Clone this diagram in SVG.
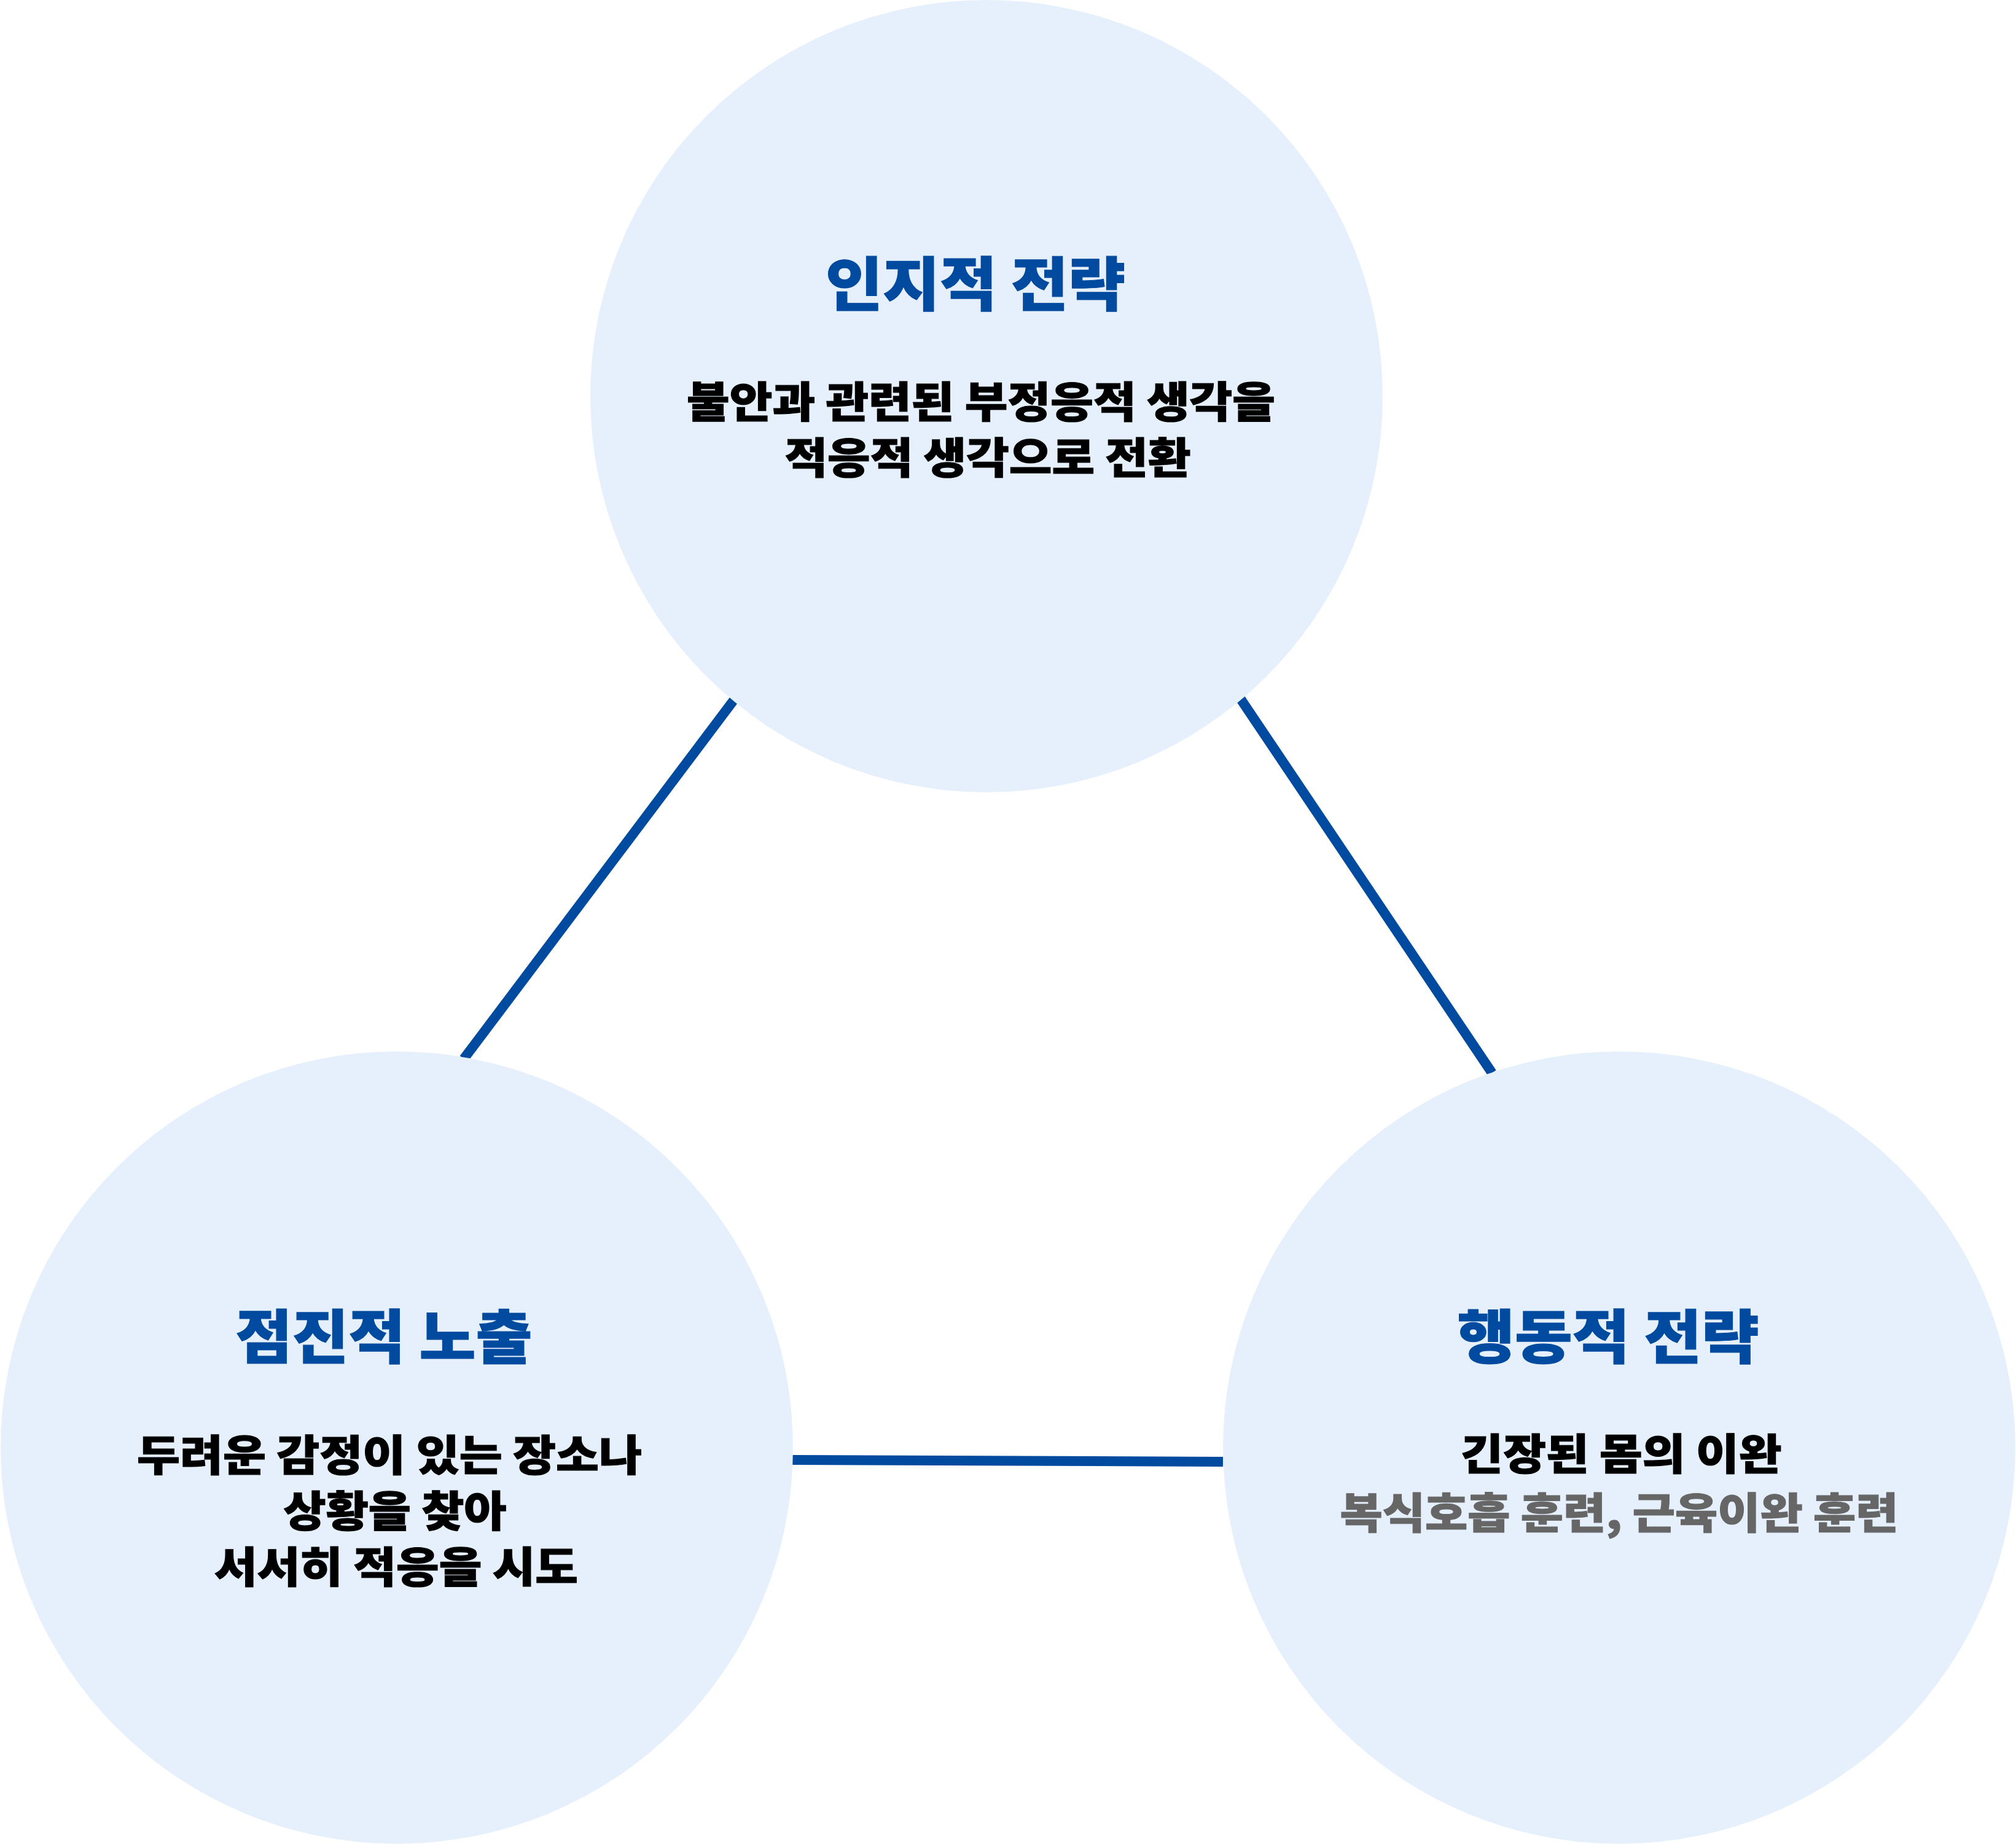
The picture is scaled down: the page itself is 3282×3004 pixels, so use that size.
<svg xmlns="http://www.w3.org/2000/svg" width="3282" height="3004" viewBox="0 0 3282 3004">
<style>
.node{fill:#E6F0FC}
.title{font-family:"Noto Sans CJK KR","Noto Sans",sans-serif;font-weight:900;font-size:95px;fill:#004A9F;stroke:#004A9F;stroke-width:1.2;text-anchor:middle}
.body{font-family:"Noto Sans CJK KR","Noto Sans",sans-serif;font-weight:900;font-size:69px;fill:#000000;stroke:#000000;stroke-width:1.2;text-anchor:middle}
.sub{fill:#666666;stroke:#666666}
.conn{stroke:#004A9F;stroke-width:16;fill:none}
</style>
<rect x="0" y="0" width="3282" height="3004" fill="#FFFFFF"/>
<g id="connectors">
<line class="conn" x1="1196" y1="1138" x2="755" y2="1724"/>
<line class="conn" x1="2019" y1="1137" x2="2429" y2="1747"/>
<line class="conn" x1="1290" y1="2377" x2="1991" y2="2380"/>
</g>
<g id="node-cognitive">
<circle class="node" cx="1606" cy="645" r="645"/>
<text class="title" x="1588" y="498" textLength="488" lengthAdjust="spacingAndGlyphs">인지적 전략</text>
<text class="body" x="1597" y="680" textLength="958" lengthAdjust="spacingAndGlyphs">불안과 관련된 부정응적 생각을</text>
<text class="body" x="1608" y="771" textLength="661" lengthAdjust="spacingAndGlyphs">적응적 생각으로 전환</text>
</g>
<g id="node-exposure">
<circle class="node" cx="646" cy="2357" r="645"/>
<text class="title" x="625" y="2212" textLength="483" lengthAdjust="spacingAndGlyphs">점진적 노출</text>
<text class="body" x="634" y="2395" textLength="822" lengthAdjust="spacingAndGlyphs">두려운 감정이 있는 장소나</text>
<text class="body" x="643" y="2486" textLength="363" lengthAdjust="spacingAndGlyphs">상황을 찾아</text>
<text class="body" x="645" y="2577" textLength="592" lengthAdjust="spacingAndGlyphs">서서히 적응을 시도</text>
</g>
<g id="node-behavioral">
<circle class="node" cx="2636" cy="2357" r="645"/>
<text class="title" x="2618" y="2212" textLength="491" lengthAdjust="spacingAndGlyphs">행동적 전략</text>
<text class="body" x="2639" y="2393" textLength="523" lengthAdjust="spacingAndGlyphs">긴장된 몸의 이완</text>
<text class="body sub" x="2636" y="2489" textLength="909" lengthAdjust="spacingAndGlyphs">복식호흡 훈련, 근육이완 훈련</text>
</g>
</svg>
